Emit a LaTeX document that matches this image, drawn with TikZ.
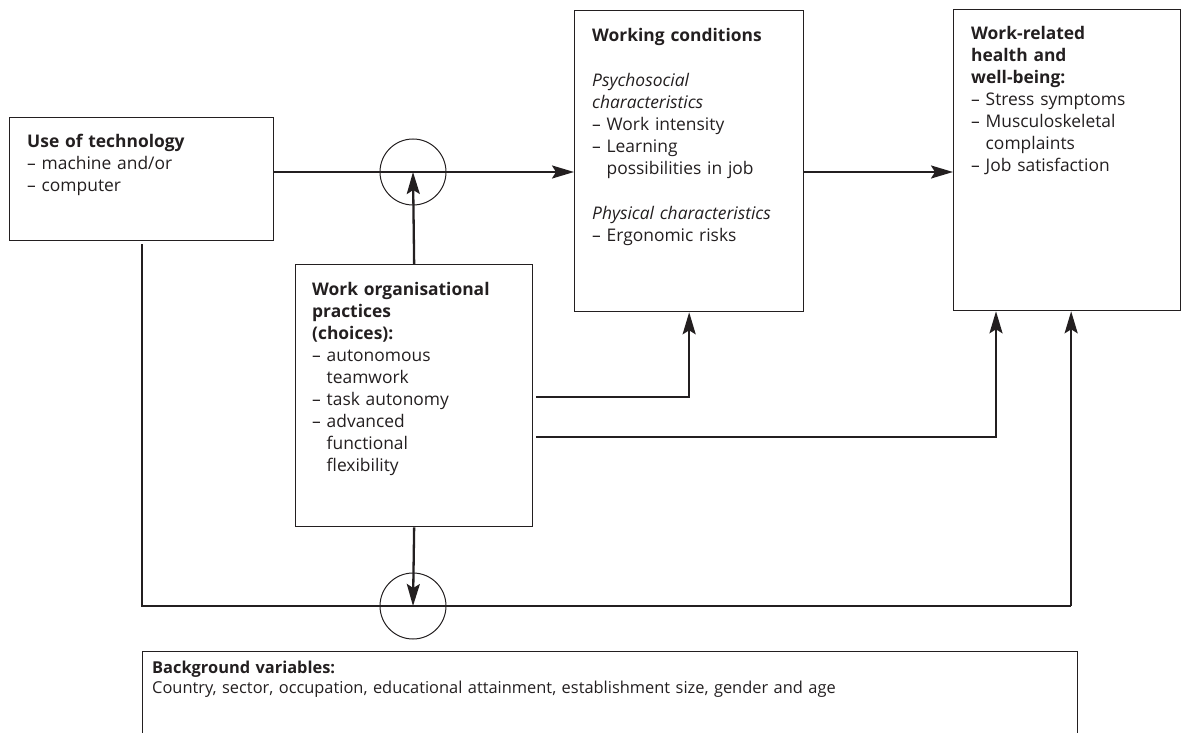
\documentclass[tikz,border=0pt]{standalone}
\usepackage{fontspec}
\setmainfont{Open Sans}
\usetikzlibrary{arrows.meta}
\definecolor{ink}{HTML}{231F20}
\tikzset{
  box/.style={draw=ink, line width=1.3pt, rectangle, inner sep=0pt, anchor=north west},
  txt/.style={anchor=base west, inner sep=0pt, text width=#1, align=left, text=ink,
              font=\fontsize{17.4}{22}\selectfont},
  smalltxt/.style={anchor=base west, inner sep=0pt, text width=#1, align=left, text=ink,
              font=\fontsize{16.4}{20}\selectfont},
  conn/.style={draw=ink, line width=2.3pt},
  arr/.style={conn, -{Stealth[length=22pt, width=13pt, inset=4pt]}},
  ring/.style={draw=ink, line width=1pt, circle, minimum size=66pt, inner sep=0pt},
}
\begin{document}
\begin{tikzpicture}[x=1pt, y=-1pt]
\useasboundingbox (0,0) rectangle (1186,733);
\clip (0,0) rectangle (1186,733);
% boxes
\node[box, minimum width=264pt, minimum height=123pt] (tech) at (9,117) {};
\node[box, minimum width=229pt, minimum height=301pt] (wc) at (574,10) {};
\node[box, minimum width=227pt, minimum height=301pt] (health) at (953,9) {};
\node[box, minimum width=237pt, minimum height=262pt] (org) at (295,264) {};
\node[box, minimum width=935pt, minimum height=120pt] (bg) at (142,651) {};
% circles
\node[ring] (c1) at (413,172) {};
\node[ring] (c2) at (413,606) {};
% texts
\node[txt=240pt] (ttech) at (27,147) {\textbf{Use of technology}\\
– machine and/or\\
– computer};
\node[txt=205pt] (twc) at (592,42) {\textbf{Working conditions}\\[23pt]
\textit{Psychosocial}\\
\textit{characteristics}\\
– Work intensity\\
– Learning\\
\hphantom{– }possibilities in job\\[23pt]
\textit{Physical characteristics}\\
– Ergonomic risks};
\node[txt=200pt] (thealth) at (971,40) {\textbf{Work-related}\\
\textbf{health and}\\
\textbf{well-being:}\\
– Stress symptoms\\
– Musculoskeletal\\
\hphantom{– }complaints\\
– Job satisfaction};
\node[txt=215pt] (torg) at (312,295) {\textbf{Work organisational}\\
\textbf{practices}\\
\textbf{(choices):}\\
– autonomous\\
\hphantom{– }teamwork\\
– task autonomy\\
– advanced\\
\hphantom{– }functional\\
\hphantom{– }flexibility};
\node[smalltxt=900pt] (tbg) at (152,673) {\textbf{Background variables:}\\
Country, sector, occupation, educational attainment, establishment size, gender and age};
% connectors
\draw[arr] (tech.east |- c1) -- (wc.west |- c1);
\draw[arr] (wc.east |- c1) -- (health.west |- c1);
\draw[arr] (org.north) -- (c1.center);
\draw[arr] (org.south) -- (c2.center);
\coordinate (bl) at (tech.south |- c2);
\coordinate (br) at ([xshift=4pt]health.south |- c2);
\draw[conn, shorten <=3pt] (tech.south) -- (bl) -- (br);
\draw[arr] (br) -- (br |- health.south);
\coordinate (o1) at ([xshift=3pt]org.east |- 0,397);
\coordinate (o2) at ([xshift=3pt]org.east |- 0,437);
\draw[arr] (o1) -- (wc.south |- o1) -- (wc.south);
\draw[arr] (o2) -- (996,437) coordinate (o2b) -- (o2b |- health.south);
\end{tikzpicture}
\end{document}
